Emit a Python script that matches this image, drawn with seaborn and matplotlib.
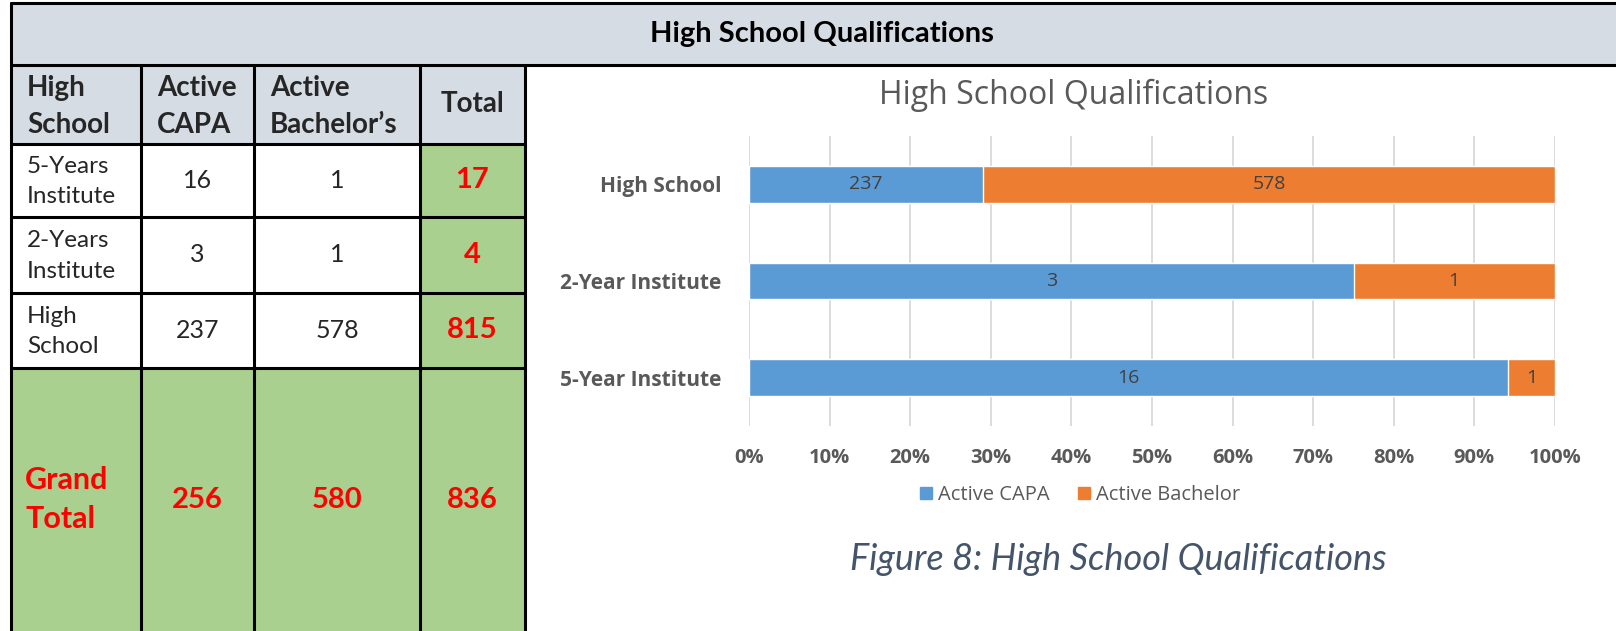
import matplotlib
matplotlib.use('Agg')
import matplotlib.pyplot as plt
from matplotlib.patches import Rectangle, Patch
import seaborn as sns
import pandas as pd

# table data
col_labels = ['High\nSchool', 'Active\nCAPA', 'Active\nBachelor’s', 'Total']
row_labels = ['5-Years\nInstitute', '2-Years\nInstitute', 'High\nSchool']
active_capa = [16, 3, 237]
active_bachelor = [1, 1, 578]
row_totals = [17, 4, 815]
grand_label = 'Grand\nTotal'
grand_total = [256, 580, 836]

# chart data (top to bottom)
categories = ['High School', '2-Year Institute', '5-Year Institute']
capa_vals = [237, 3, 16]
bach_vals = [578, 1, 1]

BLUE, ORANGE = '#5B9BD5', '#ED7D31'
HEAD_BG, GREEN, RED = '#D6DCE4', '#A9D08E', '#FF0000'
GRAY = '#595959'

sns.set_style('white')
plt.rcParams['font.family'] = ['Lato', 'DejaVu Sans']

W, H = 1616, 631
fig = plt.figure(figsize=(W / 100, H / 100), dpi=100)

# ---- table (pixel coords overlay) ----
tab = fig.add_axes([0, 0, 1, 1])
tab.set_xlim(0, W)
tab.set_ylim(H, 0)
tab.axis('off')

col_x = [11, 141, 254, 420, 525]
row_y = [65, 144, 217, 293, 368, 631]
lw = 2.2

tab.add_patch(Rectangle((11, 3), W - 11, 62, color=HEAD_BG, lw=0))
tab.add_patch(Rectangle((11, row_y[0]), col_x[-1] - 11, row_y[1] - row_y[0], color=HEAD_BG, lw=0))
for i in range(3):
    tab.add_patch(Rectangle((col_x[3], row_y[i + 1]), col_x[4] - col_x[3],
                            row_y[i + 2] - row_y[i + 1], color=GREEN, lw=0))
tab.add_patch(Rectangle((11, row_y[4]), col_x[-1] - 11, row_y[5] - row_y[4], color=GREEN, lw=0))

tab.plot([11, W], [3, 3], color='black', lw=lw)
tab.plot([11, W], [65, 65], color='black', lw=lw)
tab.plot([11, 11], [3, H], color='black', lw=lw)
for x in col_x[1:]:
    tab.plot([x, x], [row_y[0], H], color='black', lw=lw)
for y in row_y[1:-1]:
    tab.plot([11, col_x[-1]], [y, y], color='black', lw=lw)

tab.text(822, 34, 'High School Qualifications', ha='center', va='center',
         fontsize=21, fontweight='bold', color='black')

def ycen(r):
    return (row_y[r] + row_y[r + 1]) / 2

def xcen(c):
    return (col_x[c] + col_x[c + 1]) / 2

for c, lab in enumerate(col_labels):
    if c == 3:
        tab.text(xcen(c), ycen(0), lab, ha='center', va='center', fontsize=20,
                 fontweight='bold')
    else:
        tab.text(col_x[c] + 16, ycen(0) + 2, lab, ha='left',
                 va='center', fontsize=20, fontweight='bold', linespacing=1.5)

for r in range(3):
    tab.text(col_x[0] + 16, ycen(r + 1) + 1, row_labels[r], ha='left', va='center',
             fontsize=17.5, linespacing=1.55)
    tab.text(xcen(1), ycen(r + 1), str(active_capa[r]), ha='center', va='center', fontsize=18)
    tab.text(xcen(2), ycen(r + 1), str(active_bachelor[r]), ha='center', va='center', fontsize=18)
    tab.text(xcen(3), ycen(r + 1), str(row_totals[r]), ha='center', va='center', fontsize=21,
             fontweight='bold', color=RED)

tab.text(col_x[0] + 14, ycen(4), grand_label, ha='left', va='center', fontsize=22,
         fontweight='bold', color=RED, linespacing=1.45)
for c in range(3):
    tab.text(xcen(c + 1), ycen(4), str(grand_total[c]), ha='center', va='center',
             fontsize=21, fontweight='bold', color=RED)

# ---- stacked 100% bar chart ----
df = pd.DataFrame({'cat': categories, 'capa': capa_vals, 'bach': bach_vals})
df['capa_pct'] = df['capa'] / (df['capa'] + df['bach']) * 100
df['full'] = 100.0

ax = fig.add_axes([749 / W, 1 - 426 / H, 806 / W, 290 / H])
sns.barplot(data=df, y='cat', x='full', color=ORANGE, saturation=1, width=0.38,
            orient='h', ax=ax, zorder=2)
sns.barplot(data=df, y='cat', x='capa_pct', color=BLUE, saturation=1, width=0.38,
            orient='h', ax=ax, zorder=3)

for i, row in df.iterrows():
    ax.text(row['capa_pct'] / 2, i, str(row['capa']), ha='center', va='center',
            fontsize=14, color='#404040', family='Open Sans', zorder=4)
    ax.text((row['capa_pct'] + 100) / 2, i, str(row['bach']), ha='center', va='center',
            fontsize=14, color='#404040', family='Open Sans', zorder=4)

ax.set_xlim(0, 100)
ax.set_xticks(range(0, 101, 10))
ax.set_xticklabels([f'{t}%' for t in range(0, 101, 10)])
ax.set_xlabel('')
ax.set_ylabel('')
ax.xaxis.grid(True, color='#D9D9D9', lw=1.3, zorder=0)
ax.set_axisbelow(True)
sns.despine(ax=ax, left=True, bottom=True)
ax.tick_params(axis='both', length=0, colors=GRAY)
ax.tick_params(axis='x', pad=16)
ax.tick_params(axis='y', pad=20)
for t in ax.get_xticklabels():
    t.set_fontfamily('Open Sans')
    t.set_fontweight('bold')
    t.set_fontsize(14.5)
    t.set_color(GRAY)
for t in ax.get_yticklabels():
    t.set_fontfamily('Open Sans')
    t.set_fontweight('bold')
    t.set_fontsize(15)
    t.set_color(GRAY)

fig.text(1074 / W, 1 - 95 / H, 'High School Qualifications', ha='center', va='center',
         fontsize=23, color=GRAY, family='Open Sans')

fig.legend(handles=[Patch(color=BLUE, label='Active CAPA'),
                    Patch(color=ORANGE, label='Active Bachelor')],
           loc='center', bbox_to_anchor=(1080 / W, 1 - 495 / H), ncol=2, frameon=False,
           handlelength=0.6, handleheight=0.6, handletextpad=0.3, columnspacing=1.4,
           prop={'family': 'Open Sans', 'size': 14.5}, labelcolor=GRAY)

fig.text(1118 / W, 1 - 560 / H, 'Figure 8: High School Qualifications', ha='center',
         va='center', fontsize=26, style='italic', color='#44546A')

fig.savefig('out.png', dpi=100, facecolor='white')
